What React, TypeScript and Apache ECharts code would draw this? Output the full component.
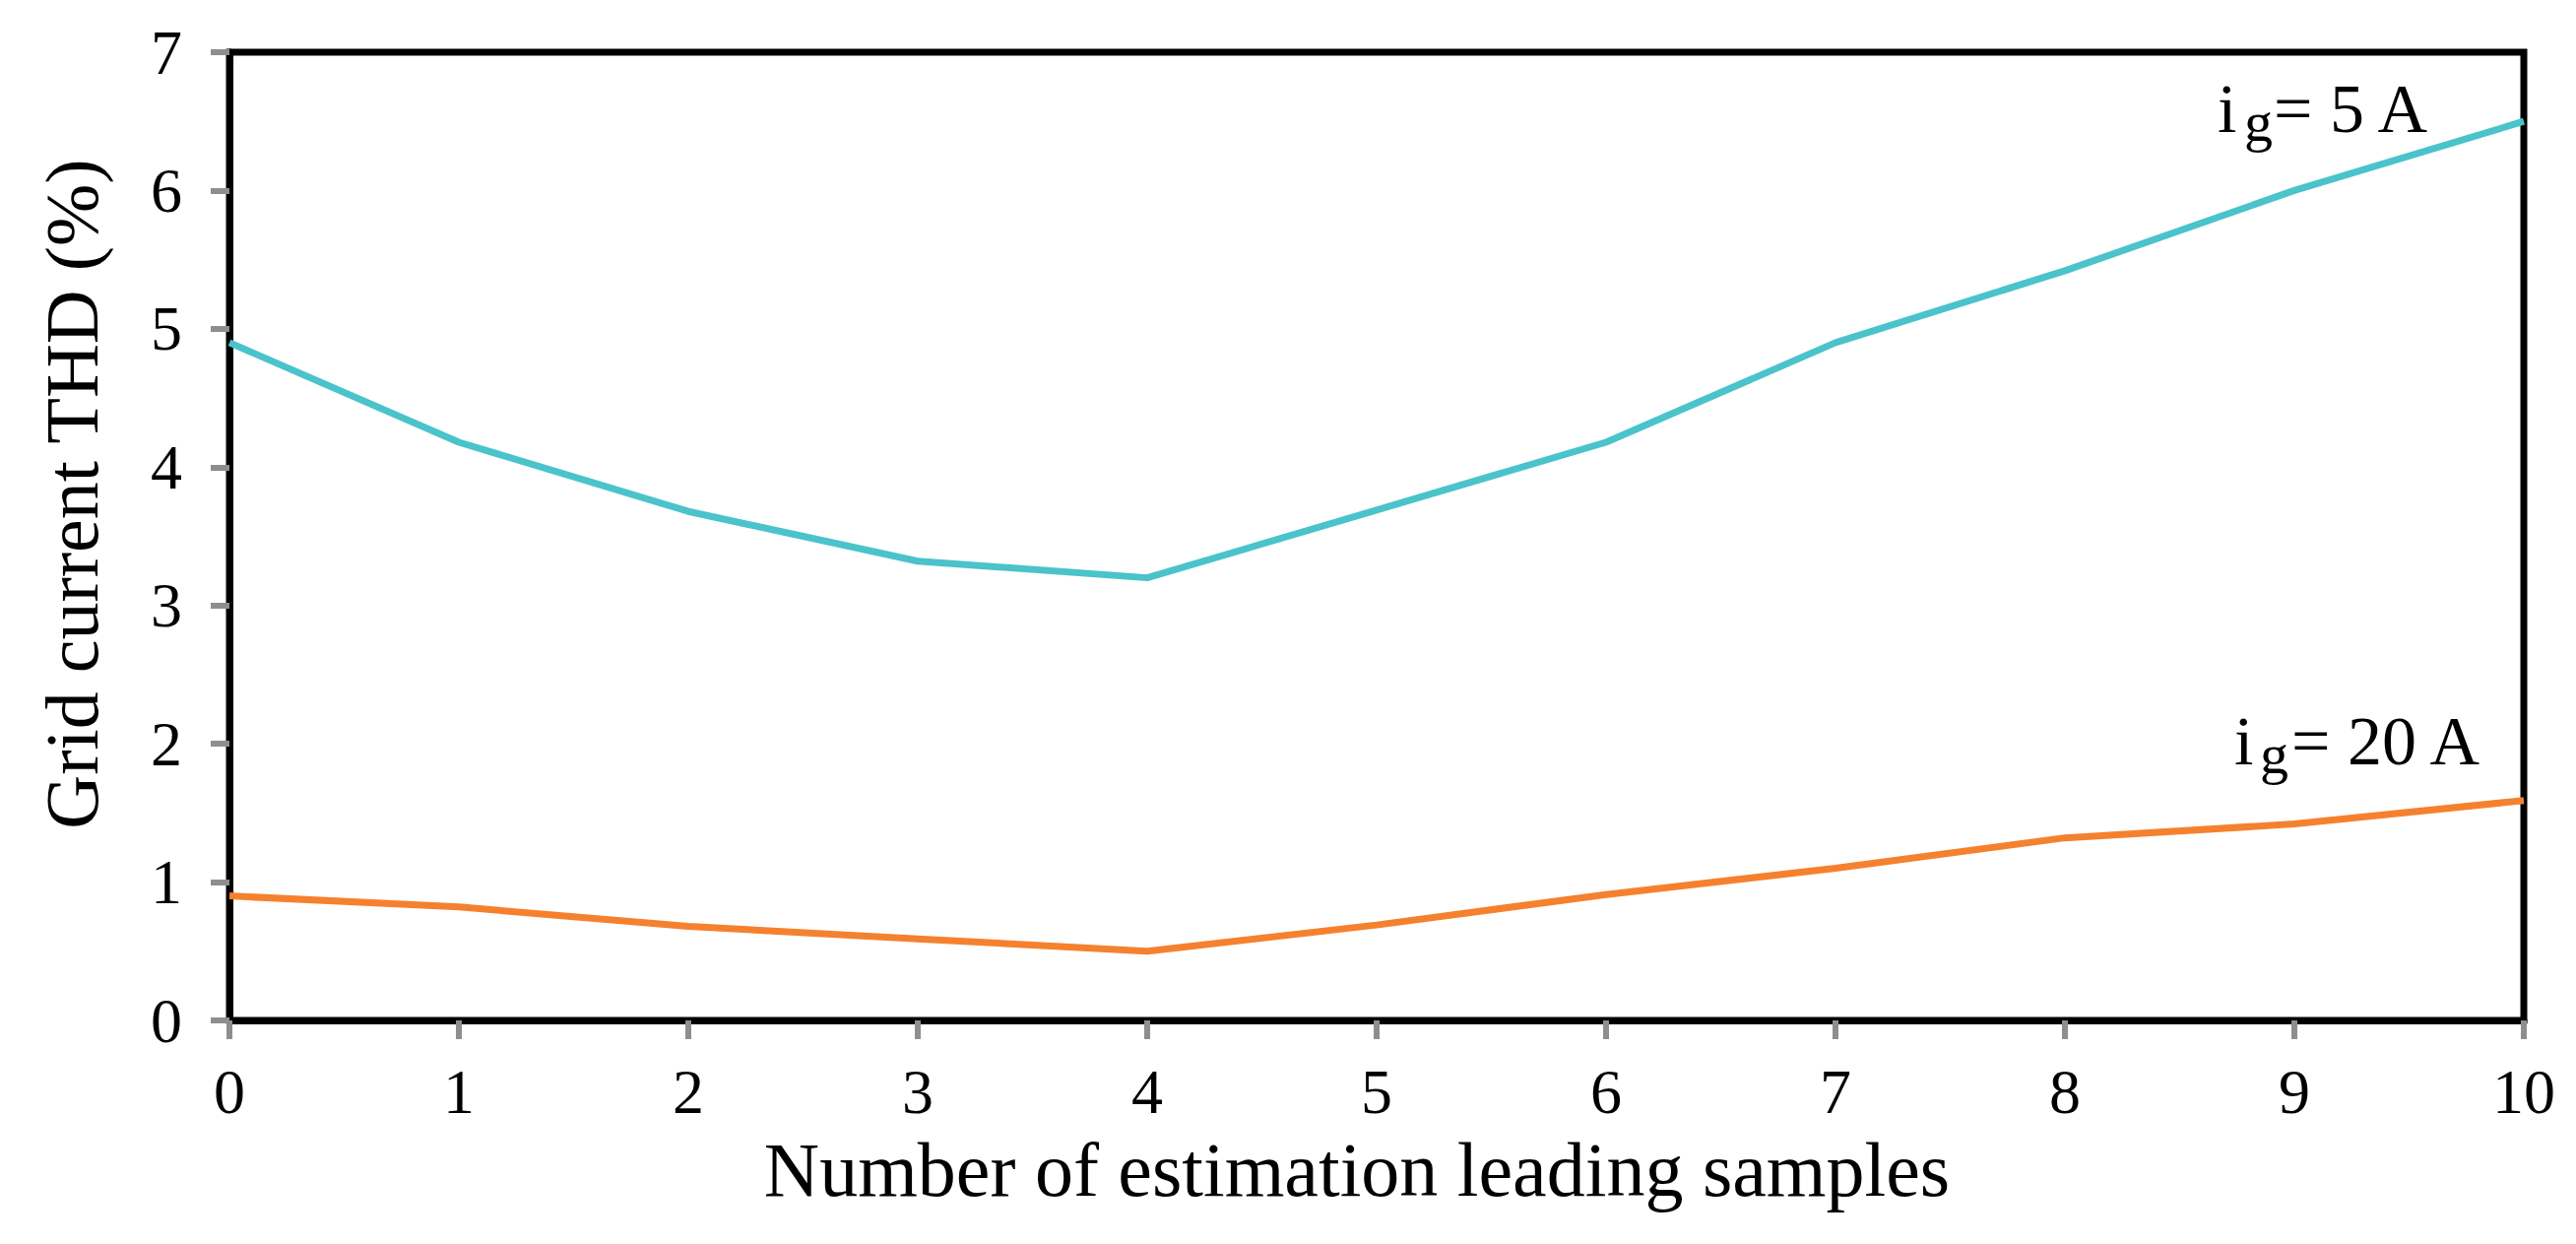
import React, { useEffect, useRef } from "react";
import * as echarts from "echarts";

const samples = ["0", "1", "2", "3", "4", "5", "6", "7", "8", "9", "10"];
const thd5A = [4.9, 4.18, 3.68, 3.32, 3.2, 3.69, 4.18, 4.9, 5.42, 6.0, 6.5];
const thd20A = [0.9, 0.82, 0.68, 0.59, 0.5, 0.69, 0.91, 1.1, 1.32, 1.42, 1.59];
const yMin = 0;
const yMax = 7;
const yStep = 1;
const xTitle = "Number of estimation leading samples";
const yTitle = "Grid current THD (%)";
const label5A = ["i", "g", "= 5 A"];
const label20A = ["i", "g", "= 20 A"];

const FONT = "'Liberation Serif', 'Times New Roman', serif";

export default function App() {
  const ref = useRef<HTMLDivElement>(null);
  useEffect(() => {
    document.body.style.margin = "0";
    const chart = echarts.init(ref.current!, null, { renderer: "svg" });
    const mainF = 70;
    const subF = 58;
    const mid = (baseline: number, f: number) => baseline - 0.35 * f;
    const ann = (parts: string[], xi: number, xg: number, xe: number, base: number) => [
      {
        type: "text",
        x: xi,
        y: mid(base, mainF),
        style: { text: parts[0], font: `${mainF}px ${FONT}`, fill: "#000", verticalAlign: "middle", align: "left" },
      },
      {
        type: "text",
        x: xg,
        y: mid(base + 9, subF),
        style: { text: parts[1], font: `${subF}px ${FONT}`, fill: "#000", verticalAlign: "middle", align: "left" },
      },
      {
        type: "text",
        x: xe,
        y: mid(base, mainF),
        style: { text: parts[2], font: `${mainF}px ${FONT}`, fill: "#000", verticalAlign: "middle", align: "left" },
      },
    ];
    chart.setOption({
      animation: false,
      backgroundColor: "#fff",
      grid: {
        left: 233,
        right: 53,
        top: 53,
        bottom: 227,
        containLabel: false,
        show: true,
        borderColor: "#000",
        borderWidth: 7,
      },
      xAxis: {
        type: "category",
        data: samples,
        boundaryGap: false,
        name: xTitle,
        nameLocation: "middle",
        nameGap: 112,
        nameTextStyle: { fontFamily: FONT, fontSize: 78, color: "#000", padding: [0, 40, 0, 0] },
        axisLine: { show: true, lineStyle: { color: "#000", width: 7 } },
        axisTick: { show: true, alignWithLabel: true, length: 19, lineStyle: { color: "#8e8e92", width: 6 } },
        axisLabel: { fontFamily: FONT, fontSize: 64, color: "#000", margin: 40 },
        splitLine: { show: false },
      },
      yAxis: {
        type: "value",
        min: yMin,
        max: yMax,
        interval: yStep,
        name: yTitle,
        nameLocation: "middle",
        nameRotate: 90,
        nameGap: 122,
        nameTextStyle: { fontFamily: FONT, fontSize: 76, color: "#000", padding: [0, 0, 0, 86] },
        axisLine: { show: true, lineStyle: { color: "#000", width: 7 } },
        axisTick: { show: true, length: 19, lineStyle: { color: "#8e8e92", width: 6 } },
        axisLabel: { fontFamily: FONT, fontSize: 64, color: "#000", margin: 48 },
        splitLine: { show: false },
      },
      series: [
        {
          name: "ig = 5 A",
          type: "line",
          data: thd5A,
          showSymbol: false,
          symbol: "none",
          lineStyle: { color: "#4ac3cb", width: 7 },
          z: 3,
        },
        {
          name: "ig = 20 A",
          type: "line",
          data: thd20A,
          showSymbol: false,
          symbol: "none",
          lineStyle: { color: "#f5812f", width: 7 },
          z: 3,
        },
      ],
      graphic: [
        ...ann(label5A, 2252, 2279, 2309, 135),
        ...ann(label20A, 2269, 2295, 2327, 777),
      ],
    });
    return () => chart.dispose();
  }, []);
  return <div ref={ref} style={{ width: 2616, height: 1263 }} />;
}
